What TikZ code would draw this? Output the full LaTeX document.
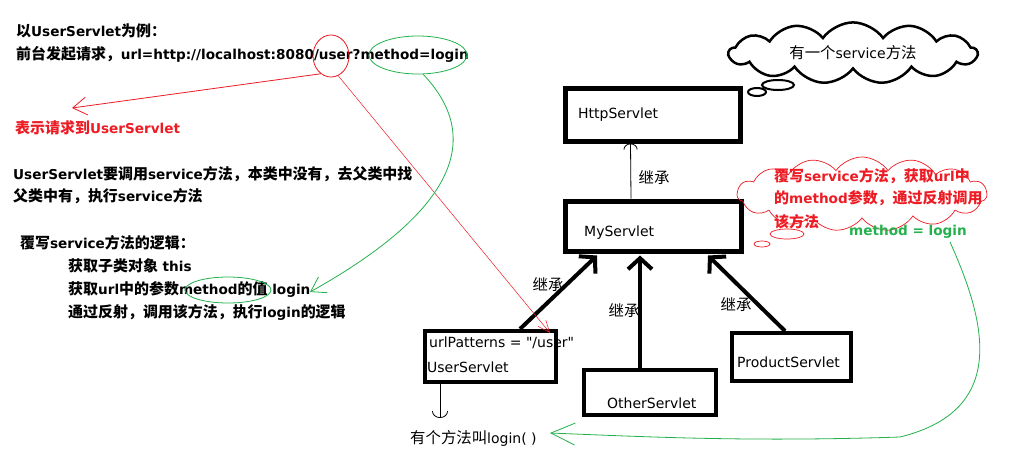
\documentclass[tikz,border=0pt]{standalone}
\usepackage{fontspec}
\setmainfont{DejaVu Sans}
\newfontfamily\qfont{DejaVu Sans}
\newfontfamily\cjkfont[Scale=1.1]{Noto Sans CJK SC}
\newcommand\zh[1]{{\cjkfont #1}}
\newcommand\sq{{\qfont\char34}}
\usetikzlibrary{shapes.symbols,shapes.geometric,arrows.meta,calc}
\definecolor{pred}{RGB}{237,28,36}
\definecolor{pgreen}{RGB}{34,177,76}
\begin{document}
\begin{tikzpicture}[x=1pt,y=-1pt,
  txt/.style={inner sep=0pt,anchor=base west,font=\bfseries\fontsize{13.6}{15}\selectfont},
  lbl/.style={inner sep=0pt,anchor=base west,font=\fontsize{14}{16}\selectfont},
  jc/.style={inner sep=0pt,font=\fontsize{14}{16}\selectfont},
  bigbox/.style={draw,line width=5pt,inner sep=0pt},
  smallbox/.style={draw,line width=4pt,inner sep=0pt},
  thickarrow/.style={line width=4pt,-{Straight Barb[length=11pt,width=24pt,line width=4pt]}},
  redarrow/.style={draw=pred,line width=0.8pt,-{Straight Barb[length=14pt,width=18pt]}},
  greenarrow/.style={draw=pgreen,line width=0.8pt,-{Straight Barb[length=14pt,width=18pt]}},
  hilite/.style={ellipse,inner sep=0pt,line width=0.8pt}]
\useasboundingbox (0,0) rectangle (1017,463);
\fill[white] (0,0) rectangle (1017,463);

% left texts
\node[txt] (t1) at (16,36) {\zh{以}UserServlet\zh{为例：}};
\node[txt] (t2) at (16,59) {\zh{前台发起请求，}url=http://localhost:8080/user?method=login};
\node[txt,text=pred] (t3) at (15,133) {\zh{表示请求到}UserServlet};
\node[txt] (t4) at (13,179) {UserServlet\zh{要调用}service\zh{方法，本类中没有，去父类中找}};
\node[txt] (t5) at (13,201) {\zh{父类中有，执行}service\zh{方法}};
\node[txt] (t6) at (20,248) {\zh{覆写}service\zh{方法的逻辑：}};
\node[txt] (t7) at (68,271) {\zh{获取子类对象} this};
\node[txt] (t8) at (68,294) {\zh{获取}url\zh{中的参数}method\zh{的值} login};
\node[txt] (t9) at (68,317) {\zh{通过反射，调用该方法，执行}login\zh{的逻辑}};

% highlights
\node[hilite,draw=pred,minimum width=36pt,minimum height=42pt] (c1) at (331,56) {};
\node[hilite,draw=pgreen,minimum width=98pt,minimum height=38pt] (c2) at (418,55) {};
\node[hilite,draw=pgreen,minimum width=86pt,minimum height=26pt] (c3) at (228,290) {};

% boxes
\node[bigbox,minimum width=175pt,minimum height=53pt] (http) at (652.5,114.5) {};
\node[lbl] (httpt) at (578,118) {HttpServlet};
\node[bigbox,minimum width=176pt,minimum height=50pt] (my) at (653,226) {};
\node[lbl] (myt) at (584,236) {MyServlet};
\node[smallbox,minimum width=131pt,minimum height=51pt] (user) at (490.5,356.5) {};
\node[lbl] (usert1) at (429,347) {urlPatterns = \sq/user\sq};
\node[lbl] (usert2) at (427,372) {UserServlet};
\node[smallbox,minimum width=132pt,minimum height=45pt] (other) at (650,392.5) {};
\node[lbl] (othert) at (607,408) {OtherServlet};
\node[smallbox,minimum width=119pt,minimum height=48pt] (prod) at (791.5,357) {};
\node[lbl] (prodt) at (737,367) {ProductServlet};

% inheritance
\draw[line width=0.8pt,-{Arc Barb[length=6pt,width=14pt]}] ($(my.north)+(-22,0)$) -- ($(http.south)+(-22,0)$);
\node[jc] (j0) at (654,178) {\zh{继承}};
\draw[thickarrow] ($(user.north)+(29.5,0)$) -- ($(my.south)+(-56,2)$);
\draw[thickarrow] ($(other.north)+(-10,0)$) -- ($(my.south)+(-13,2)$);
\draw[thickarrow] ($(prod.north)+(-6.5,0)$) -- ($(my.south)+(55,2)$);
\node[jc] (j1) at (548,285) {\zh{继承}};
\node[jc] (j2) at (624,311) {\zh{继承}};
\node[jc] (j3) at (736,305) {\zh{继承}};

% clouds
\node[cloud,draw,line width=2.5pt,cloud puffs=13,cloud puff arc=110,aspect=4.5,
  minimum width=248pt,minimum height=52pt,inner sep=0pt,
  font=\fontsize{14}{16}\selectfont] (cl1) at (853,53) {\zh{有一个}service\zh{方法}};
\draw[line width=2pt] (778,85) ellipse (16pt and 5pt);
\draw[line width=2pt] (757,92) ellipse (9pt and 4pt);

\node[cloud,draw=pred,line width=0.7pt,cloud puffs=15,cloud puff arc=110,aspect=3.3,
  minimum width=250pt,minimum height=74pt,inner sep=0pt] (cl2) at (862,194) {};
\draw[pred,line width=0.7pt] (787,234) ellipse (17pt and 5pt);
\draw[pred,line width=0.7pt] (762,244) ellipse (8pt and 3pt);
\node[txt,text=pred] (r1) at (774,181) {\zh{覆写}service\zh{方法，获取}url\zh{中}};
\node[txt,text=pred] (r2) at (774,203) {\zh{的}method\zh{参数，通过反射调用}};
\node[txt,text=pred] (r3) at (774,227) {\zh{该方法}};
\node[txt,text=pgreen] (g1) at (849,235) {method = login};

% bottom text
\node[lbl] (login) at (410,443) {\zh{有个方法叫}login( )};
\draw[line width=0.8pt,-{Arc Barb[length=7pt,width=16pt]}] ($(user.south west)+(17,0)$) -- ($(user.south west)+(17,34)$);

% red annotations
\coordinate (rtip1) at (72,108);
\draw[redarrow] (c1.240) -- (rtip1);
\draw[draw=pred,line width=0.5pt,-{Straight Barb[length=12pt,width=10pt]}] (c1.-70) -- ($(user.north east)+(-8,4)$);

% green annotations
\coordinate (gtip1) at (310,292);
\draw[greenarrow] (c2.-75) .. controls (495,150) and (430,225) .. (gtip1);
\coordinate (gs) at (950,242);
\coordinate (gtip2) at (550,433);
\draw[draw=pgreen,line width=0.8pt] (gs) .. controls (985,320) and (1010,410) .. (900,437);
\draw[draw=pgreen,line width=0.8pt,-{Straight Barb[length=24pt,width=22pt]}] (900,437) .. controls (750,442) and (650,437) .. (gtip2);
\end{tikzpicture}
\end{document}
